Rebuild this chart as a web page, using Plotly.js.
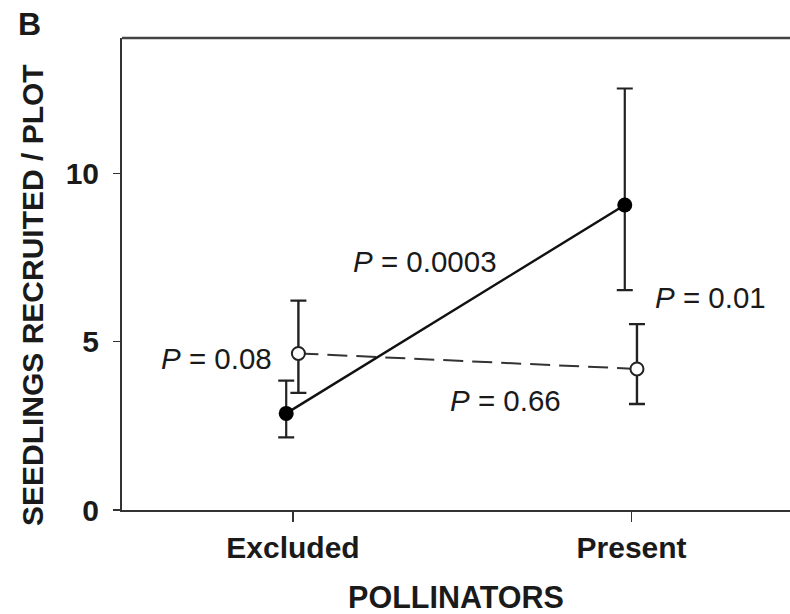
<!DOCTYPE html>
<html>
<head>
<meta charset="utf-8">
<script src="https://cdn.plot.ly/plotly-3.0.1.min.js"></script>
<style>
html, body { margin: 0; padding: 0; background: #fff; overflow: hidden; }
#chart { width: 790px; height: 614px; }
</style>
</head>
<body>
<div id="chart"></div>
<script>
// ---- data ----
const categories = ['Excluded', 'Present'];
const yTickValues = [0, 5, 10];
const yTickLabels = ['0', '5', '10'];

// filled circles, solid line
const filledMean  = [2.87, 9.06];
const filledUpper = [3.84, 12.52];
const filledLower = [2.16, 6.53];

// open circles, dashed line
const openMean  = [4.65, 4.19];
const openUpper = [6.22, 5.52];
const openLower = [3.48, 3.15];

// P-value labels
const pLabels = ['0.0003', '0.08', '0.01', '0.66'];

// ---- build ----
const catIdx = categories.map((c, i) => i);
const filledOffset = -0.02, openOffset = 0.016;
const fx = catIdx.map(i => i + filledOffset);
const ox = catIdx.map(i => i + openOffset);

const FONT = 'Liberation Sans, Arial, Helvetica, sans-serif';
const INK = '#1a1a1a';

const traceOpen = {
  x: ox, y: openMean, type: 'scatter', mode: 'lines+markers',
  line: { color: '#333', width: 2, dash: '20px,9px' },
  marker: { symbol: 'circle', size: 13, color: '#fff', line: { color: '#222', width: 2 } },
  error_y: {
    type: 'data', symmetric: false,
    array: openUpper.map((u, i) => u - openMean[i]),
    arrayminus: openMean.map((m, i) => m - openLower[i]),
    color: '#222', thickness: 2.4, width: 8
  },
  showlegend: false, hoverinfo: 'x+y'
};

const traceFilled = {
  x: fx, y: filledMean, type: 'scatter', mode: 'lines+markers',
  line: { color: '#111', width: 2.4 },
  marker: { symbol: 'circle', size: 15, color: '#000' },
  error_y: {
    type: 'data', symmetric: false,
    array: filledUpper.map((u, i) => u - filledMean[i]),
    arrayminus: filledMean.map((m, i) => m - filledLower[i]),
    color: '#222', thickness: 2.2, width: 8
  },
  showlegend: false, hoverinfo: 'x+y'
};

const pFont = { family: FONT, size: 29.5, color: INK };
function pAnn(label, x, y) {
  return { text: '<i>P</i> = ' + label, x: x, y: y, xref: 'x', yref: 'y',
           showarrow: false, font: pFont, xanchor: 'center', yanchor: 'middle' };
}

const layout = {
  width: 790, height: 614,
  margin: { l: 122, r: 0, t: 38, b: 104 },
  paper_bgcolor: '#fff', plot_bgcolor: '#fff',
  font: { family: FONT, color: INK },
  xaxis: {
    range: [-0.505, 1.468],
    tickmode: 'array', tickvals: catIdx, ticktext: categories,
    showgrid: false, zeroline: false,
    showline: true, linecolor: '#333', linewidth: 2,
    ticks: 'outside', ticklen: 10, tickwidth: 1.5, tickcolor: '#333',
    tickfont: { family: FONT, size: 30, color: INK, weight: 'bold' },
    title: { text: '<b>POLLINATORS</b>', font: { family: FONT, size: 30.5, color: INK }, standoff: 26 }
  },
  yaxis: {
    range: [0, 14.02],
    tickmode: 'array', tickvals: yTickValues, ticktext: yTickLabels,
    showgrid: false, zeroline: false,
    showline: true, linecolor: '#333', linewidth: 2,
    ticks: 'outside', ticklen: 7, tickwidth: 1.5, tickcolor: '#333',
    ticklabelstandoff: 8,
    tickfont: { family: FONT, size: 30, color: INK, weight: 'bold' },
    title: { text: '' }
  },
  shapes: [
    // top border of frame
    { type: 'line', xref: 'paper', yref: 'paper', x0: 0, x1: 1, y0: 1, y1: 1,
      line: { color: '#444', width: 2.5 } },
    // x-axis line extension to the left of y axis
    { type: 'line', xref: 'paper', yref: 'paper', x0: -0.011, x1: 0, y0: 0, y1: 0,
      line: { color: '#333', width: 2 } }
  ],
  annotations: [
    pAnn(pLabels[0], 0.391, 7.37),
    pAnn(pLabels[1], -0.227, 4.51),
    pAnn(pLabels[2], 1.233, 6.30),
    pAnn(pLabels[3], 0.629, 3.24),
    { text: '<b>SEEDLINGS RECRUITED / PLOT</b>', xref: 'paper', yref: 'paper',
      x: -0.135, y: 0.455, textangle: -90, showarrow: false,
      xanchor: 'center', yanchor: 'middle',
      font: { family: FONT, size: 30, color: INK } },
    { text: '<b>B</b>', xref: 'paper', yref: 'paper', x: -0.139, y: 1.03,
      showarrow: false, xanchor: 'center', yanchor: 'middle',
      font: { family: FONT, size: 32, color: INK } }
  ]
};

Plotly.newPlot('chart', [traceOpen, traceFilled], layout, { displayModeBar: false, staticPlot: true });
</script>
</body>
</html>
